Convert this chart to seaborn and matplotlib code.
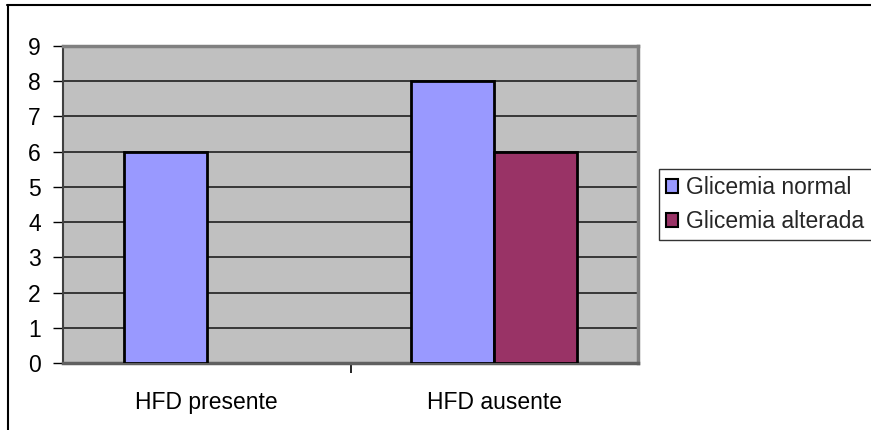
import matplotlib
matplotlib.use("Agg")
import matplotlib.pyplot as plt
from matplotlib.lines import Line2D
from matplotlib.patches import Patch
import seaborn as sns
import pandas as pd

categories = ["HFD presente", "HFD ausente"]
series = ["Glicemia normal", "Glicemia alterada"]
normal = [6, 8]
alterada = [0, 6]
yticks = [0, 1, 2, 3, 4, 5, 6, 7, 8, 9]

colors = {"Glicemia normal": "#9999FF", "Glicemia alterada": "#993366"}

df = pd.DataFrame({
    "grupo": categories * 2,
    "serie": [series[0]] * len(categories) + [series[1]] * len(categories),
    "valor": normal + alterada,
})

sns.set_theme(style="white")
plt.rcParams["font.family"] = ["Liberation Sans", "DejaVu Sans"]

fig = plt.figure(figsize=(8.71, 4.30), dpi=100)
ax = fig.add_axes([63 / 871, 1 - 363 / 430, 575 / 871, 317 / 430])
ax.set_facecolor("#C0C0C0")

sns.barplot(data=df, x="grupo", y="valor", hue="serie", order=categories,
            hue_order=series, palette=colors, width=0.578, dodge=True,
            edgecolor="black", linewidth=2, saturation=1, legend=False, ax=ax,
            zorder=3)

# empty bars leave no outline on the axis
for p in ax.patches:
    if p.get_height() == 0:
        p.set_linewidth(0)

ax.set_ylim(0, 9)
ax.set_xlim(-0.5, 1.5)
ax.set_yticks(yticks)
ax.set_xticks([0.5], minor=True)
ax.set_xlabel("")
ax.set_ylabel("")
ax.yaxis.grid(True, color="#202020", linewidth=1.2, zorder=0)
ax.set_axisbelow(True)

for side in ("top", "right"):
    ax.spines[side].set_color("#808080")
    ax.spines[side].set_linewidth(2.5)
ax.spines["left"].set_color("#404040")
ax.spines["left"].set_linewidth(1.5)
ax.spines["bottom"].set_color("#606060")
ax.spines["bottom"].set_linewidth(2.5)

ax.tick_params(axis="y", which="major", length=7, width=1, color="black",
               left=True, labelsize=16.5, pad=9, labelcolor="black")
ax.tick_params(axis="x", which="major", length=0, labelsize=16.5, pad=20,
               labelcolor="black")
ax.tick_params(axis="x", which="minor", bottom=True, length=7, width=1.2,
               color="black")

handles = [Patch(facecolor=colors[s], edgecolor="black", linewidth=1.5, label=s)
           for s in series]
leg = fig.legend(handles=handles, loc="upper left",
                 bbox_to_anchor=(659 / 871, 1 - 169 / 430),
                 frameon=True, fancybox=False, handlelength=0.55,
                 handleheight=0.55, handletextpad=0.35, borderpad=0.3,
                 labelspacing=0.5, borderaxespad=0, fontsize=16.5)
leg.get_frame().set_edgecolor("black")
leg.get_frame().set_linewidth(1.0)

# outer chart frame
fig.add_artist(Line2D([7.5 / 871, 7.5 / 871], [0, 1 - 5 / 430],
                      transform=fig.transFigure, color="black", linewidth=1.5))
fig.add_artist(Line2D([7 / 871, 1], [1 - 5 / 430, 1 - 5 / 430],
                      transform=fig.transFigure, color="black", linewidth=1.5))

fig.savefig("out.png", dpi=100)
